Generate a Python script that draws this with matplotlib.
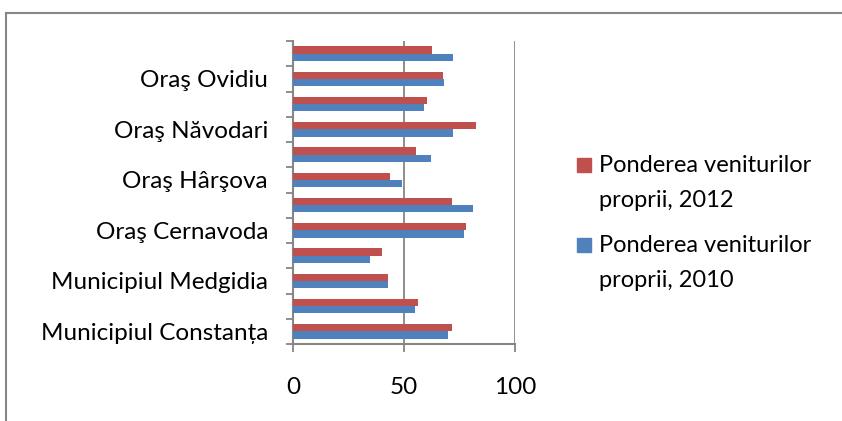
import numpy as np
import matplotlib
matplotlib.use("Agg")
import matplotlib.pyplot as plt
from matplotlib.patches import Rectangle

# categories, bottom to top
categories = ["Municipiul Constanța", "Municipiul Mangalia", "Municipiul Medgidia",
              "Oraş Băneasa", "Oraş Cernavoda", "Oraş Eforie", "Oraş Hârşova",
              "Oraş Murfatlar", "Oraş Năvodari", "Oraş Negru Vodă", "Oraş Ovidiu",
              "Oraş Techirghiol"]
share_2012 = [71.7, 56.5, 43.0, 40.2, 77.9, 71.7, 43.6, 55.5, 82.6, 60.2, 67.5, 62.4]
share_2010 = [69.9, 54.9, 43.0, 34.9, 77.0, 80.9, 49.0, 62.0, 71.9, 58.9, 68.0, 71.9]
label_2012 = "Ponderea veniturilor\nproprii, 2012"
label_2010 = "Ponderea veniturilor\nproprii, 2010"

plt.rcParams["font.family"] = ["Lato", "DejaVu Sans"]
gray = "#868686"
red = "#C0504D"
blue = "#4F81BD"
fs = 17.5

fig = plt.figure(figsize=(8.42, 4.21), dpi=100)
ax = fig.add_axes([293 / 842, 77 / 421, 222 / 842, 303 / 421])

y = np.arange(len(categories))
h = 0.29
ax.barh(y + h / 2, share_2012, height=h, color=red, zorder=3)
ax.barh(y - h / 2, share_2010, height=h, color=blue, zorder=3)

ax.set_xlim(0, 100)
ax.set_ylim(-0.5, len(categories) - 0.5)
ax.set_xticks([0, 50, 100])
ax.grid(axis="x", color=gray, linewidth=1.3, zorder=0)

# Excel skips every other category label
ax.set_yticks(y[::2])
ax.set_yticklabels(categories[::2])
ax.set_yticks(np.arange(len(categories) + 1) - 0.5, minor=True)
ax.tick_params(axis="y", which="major", length=0, pad=18, labelsize=fs)
ax.tick_params(axis="y", which="minor", length=5, width=1.3, color=gray)
ax.tick_params(axis="x", length=6, width=1.3, color=gray, pad=17.5, labelsize=fs)

for side in ["top", "right"]:
    ax.spines[side].set_visible(False)
for side in ["left", "bottom"]:
    ax.spines[side].set_color(gray)
    ax.spines[side].set_linewidth(1.5)

# legend: square next to the first line of each label
for label, color, top in [(label_2012, red, 165), (label_2010, blue, 245)]:
    fig.add_artist(Rectangle((577 / 842, 1 - (top + 7) / 421), 14 / 842, 14 / 421,
                             transform=fig.transFigure, color=color))
    fig.text(599 / 842, 1 - (top - 10) / 421, label, fontsize=fs - 0.5,
             va="top", ha="left", linespacing=1.85)

# chart frame (cut off at right and bottom)
fig.add_artist(Rectangle((6 / 842, -0.1), 1.2, 1.1 - 13 / 421,
                         transform=fig.transFigure, fill=False,
                         edgecolor=gray, linewidth=1.5, clip_on=False))

fig.savefig("out.png", dpi=100)
